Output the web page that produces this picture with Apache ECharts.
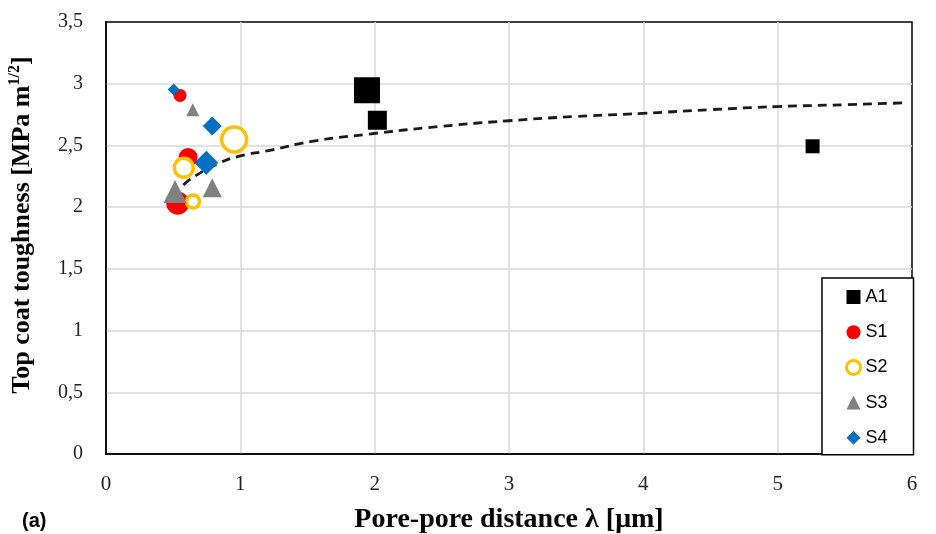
<!DOCTYPE html>
<html>
<head>
<meta charset="utf-8">
<script src="https://cdn.jsdelivr.net/npm/echarts@6/dist/echarts.min.js"></script>
<style>html,body{margin:0;padding:0;background:#fff;}#c{width:936px;height:534px;}</style>
</head>
<body>
<div id="c"></div>
<script>
// ---- data ----
var seriesNames = ['A1', 'S1', 'S2', 'S3', 'S4'];
var a1X = [1.943, 2.02, 5.26];
var a1Y = [2.947, 2.704, 2.493];
var s1X = [0.551, 0.611, 0.534];
var s1Y = [2.905, 2.403, 2.032];
var s2X = [0.954, 0.579, 0.648];
var s2Y = [2.548, 2.319, 2.045];
var s3X = [0.646, 0.791, 0.514];
var s3Y = [2.79, 2.157, 2.126];
var s4X = [0.504, 0.791, 0.747];
var s4Y = [2.954, 2.658, 2.36];
// trend line points
var trendX = [0.576, 0.66, 0.85, 1.0, 1.22, 1.52, 1.94, 2.5, 3.0, 3.5, 4.0, 4.5, 5.0, 5.5, 5.95];
var trendY = [2.18, 2.25, 2.36, 2.415, 2.46, 2.53, 2.59, 2.655, 2.70, 2.735, 2.76, 2.79, 2.815, 2.83, 2.845];
var xTicks = ['0', '1', '2', '3', '4', '5', '6'];
var yTicks = ['0', '0,5', '1', '1,5', '2', '2,5', '3', '3,5'];

// ---- marker sizes (style, kept separate) ----
var a1Sizes = [26, 19, 14];
var s1Sizes = [13, 19, 23];
var s2Sizes = [25, 19, 13];
var s3Sizes = [13, 19, 23];
var s4Sizes = [12, 19, 24];

function pts(xs, ys, sizes) {
  return xs.map(function (x, i) {
    var p = { value: [x, ys[i]] };
    if (sizes) p.symbolSize = sizes[i];
    return p;
  });
}

var chart = echarts.init(document.getElementById('c'));
var serif = "'Liberation Serif', 'Times New Roman', serif";
var sans = "'Liberation Sans', Arial, sans-serif";

chart.setOption({
  animation: false,
  backgroundColor: '#fff',
  title: {
    text: '(a)', left: 17, top: 506,
    textStyle: { fontFamily: sans, fontWeight: 'bold', fontSize: 20, color: '#000' }
  },
  grid: {
    left: 106, right: 24, top: 22, bottom: 80,
    outerBoundsMode: 'none', containLabel: false,
    show: true, borderColor: '#000', borderWidth: 1.5, backgroundColor: 'transparent'
  },
  legend: {
    data: [
      { name: 'A1' }, { name: 'S1' },
      { name: 'S2', itemStyle: { borderWidth: 3 } },
      { name: 'S3' }, { name: 'S4' }
    ],
    orient: 'vertical',
    left: 822, top: 278,
    backgroundColor: '#fff',
    borderColor: '#000', borderWidth: 1.5, borderRadius: 0,
    padding: [9, 26, 7, 23],
    itemWidth: 14, itemHeight: 14, itemGap: 15.2,
    textStyle: { fontFamily: sans, fontSize: 18, color: '#000', lineHeight: 20 }
  },
  xAxis: {
    type: 'value', min: 0, max: 6, interval: 1,
    name: 'Pore-pore distance λ [μm]', nameLocation: 'middle', nameGap: 52,
    nameTextStyle: { fontFamily: serif, fontWeight: 'bold', fontSize: 28, color: '#000' },
    axisLine: { show: true, onZero: false, lineStyle: { color: '#000', width: 1.5 } },
    axisTick: { show: false },
    splitLine: { show: true, showMinLine: false, showMaxLine: false, lineStyle: { color: '#d9d9d9', width: 1.5 } },
    axisLabel: {
      fontFamily: serif, fontSize: 21, color: '#222', margin: 20,
      formatter: function (v) { return xTicks[Math.round(v)]; }
    }
  },
  yAxis: {
    type: 'value', min: 0, max: 3.5, interval: 0.5,
    name: '{a|Top coat toughness [MPa m}{s|1/2}{a|]}', nameLocation: 'middle', nameGap: 69,
    nameTextStyle: {
      padding: [0, 0, 0, 26],
      rich: {
        a: { fontFamily: serif, fontWeight: 'bold', fontSize: 26, color: '#000', lineHeight: 30 },
        s: { fontFamily: serif, fontWeight: 'bold', fontSize: 16, color: '#000', verticalAlign: 'top' }
      }
    },
    axisLine: { show: true, lineStyle: { color: '#000', width: 1.5 } },
    axisTick: { show: false },
    splitLine: { show: true, showMinLine: false, showMaxLine: false, lineStyle: { color: '#d9d9d9', width: 1.5 } },
    axisLabel: {
      fontFamily: serif, fontSize: 20, color: '#222', margin: 23,
      formatter: function (v) { return yTicks[Math.round(v * 2)]; }
    }
  },
  series: [
    {
      name: 'trend', type: 'line', smooth: true, showSymbol: false, z: 1,
      data: trendX.map(function (x, i) { return [x, trendY[i]]; }),
      lineStyle: { color: '#1a1a1a', width: 2.8, type: [9, 6] }
    },
    {
      name: 'A1', type: 'scatter', symbol: 'rect', z: 2,
      itemStyle: { color: '#000', opacity: 1 },
      data: pts(a1X, a1Y, a1Sizes)
    },
    {
      name: 'S1', type: 'scatter', symbol: 'circle', z: 3,
      itemStyle: { color: '#ff0000', opacity: 1 },
      data: pts(s1X, s1Y, s1Sizes)
    },
    {
      name: 'S2', type: 'scatter', symbol: 'circle', z: 4,
      itemStyle: { color: '#ffffff', borderColor: '#ffc000', borderWidth: 3.5, opacity: 1 },
      data: pts(s2X, s2Y, s2Sizes)
    },
    {
      name: 'S3', type: 'scatter', symbol: 'triangle', z: 5,
      itemStyle: { color: '#808080', opacity: 1 },
      data: pts(s3X, s3Y, s3Sizes)
    },
    {
      name: 'S4', type: 'scatter', symbol: 'diamond', z: 6,
      itemStyle: { color: '#0070c0', opacity: 1 },
      data: pts(s4X, s4Y, s4Sizes)
    }
  ]
});
</script>
</body>
</html>
